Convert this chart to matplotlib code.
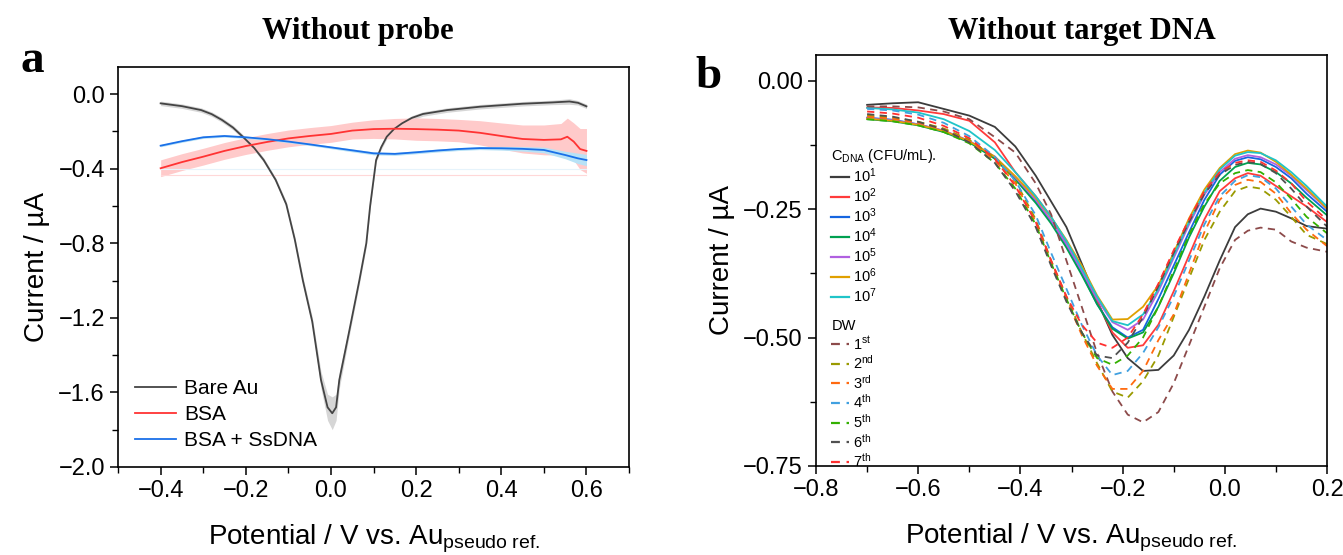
import matplotlib
matplotlib.use('Agg')
import matplotlib.pyplot as plt
from matplotlib.lines import Line2D
from matplotlib.ticker import MultipleLocator

plt.rcParams['font.family'] = ['Liberation Sans', 'DejaVu Sans']
plt.rcParams['mathtext.fontset'] = 'custom'
plt.rcParams['mathtext.rm'] = 'Liberation Sans'
plt.rcParams['mathtext.it'] = 'Liberation Sans:italic'
plt.rcParams['mathtext.bf'] = 'Liberation Sans:bold'

# --- panel a: without probe ---
bare_v = [-0.40, -0.35, -0.305, -0.28, -0.256, -0.23, -0.207, -0.18, -0.158, -0.13, -0.105, -0.085,
          -0.066, -0.044, -0.0235, -0.008, 0.003, 0.012, 0.0196, 0.043, 0.0666, 0.083, 0.092, 0.106,
          0.118, 0.131, 0.148, 0.167, 0.19, 0.216, 0.273, 0.35, 0.45, 0.52, 0.56, 0.58, 0.60]
bare_i = [-0.050, -0.065, -0.086, -0.108, -0.139, -0.180, -0.229, -0.290, -0.354, -0.46, -0.591, -0.78,
          -1.00, -1.22, -1.533, -1.68, -1.712, -1.68, -1.533, -1.27, -1.00, -0.80, -0.60, -0.354,
          -0.285, -0.229, -0.188, -0.157, -0.128, -0.107, -0.086, -0.068, -0.052, -0.045, -0.040, -0.047, -0.066]
bare_err = [0.012, 0.012, 0.012, 0.012, 0.012, 0.012, 0.012, 0.012, 0.012, 0.012, 0.015, 0.018,
            0.02, 0.025, 0.045, 0.07, 0.088, 0.07, 0.045, 0.025, 0.02, 0.018, 0.015, 0.012,
            0.012, 0.012, 0.012, 0.012, 0.012, 0.012, 0.012, 0.012, 0.012, 0.012, 0.015, 0.012, 0.012]

bsa_v = [-0.40, -0.35, -0.30, -0.25, -0.20, -0.15, -0.10, -0.05, 0.00, 0.05, 0.10, 0.15,
         0.20, 0.25, 0.30, 0.35, 0.40, 0.45, 0.50, 0.54, 0.555, 0.57, 0.585, 0.60]
bsa_i = [-0.398, -0.365, -0.336, -0.305, -0.279, -0.257, -0.238, -0.225, -0.214, -0.196, -0.188, -0.186,
         -0.188, -0.191, -0.196, -0.208, -0.225, -0.241, -0.246, -0.243, -0.229, -0.255, -0.295, -0.305]
bsa_err = [0.045, 0.045, 0.045, 0.045, 0.045, 0.045, 0.045, 0.045, 0.045, 0.045, 0.05, 0.055,
           0.06, 0.06, 0.06, 0.065, 0.07, 0.075, 0.08, 0.085, 0.10, 0.10, 0.11, 0.12]
bsa_base = -0.436

ss_v = [-0.40, -0.35, -0.30, -0.25, -0.20, -0.15, -0.10, -0.05, 0.00, 0.05, 0.10,
        0.15, 0.20, 0.25, 0.30, 0.35, 0.40, 0.45, 0.50, 0.55, 0.58, 0.60]
ss_i = [-0.277, -0.253, -0.232, -0.225, -0.232, -0.242, -0.255, -0.270, -0.286, -0.302, -0.318,
        -0.321, -0.3125, -0.303, -0.295, -0.290, -0.291, -0.294, -0.300, -0.327, -0.345, -0.354]
ss_err = [0.006, 0.006, 0.006, 0.006, 0.006, 0.006, 0.006, 0.006, 0.007, 0.008, 0.008,
          0.008, 0.008, 0.008, 0.008, 0.008, 0.01, 0.012, 0.015, 0.02, 0.028, 0.03]
ss_base = -0.40

# --- panel b: without target DNA ---
pot_b = [-0.70, -0.65, -0.60, -0.55, -0.50, -0.45, -0.41, -0.37, -0.34, -0.31, -0.28, -0.25, -0.22,
         -0.19, -0.16, -0.13, -0.10, -0.07, -0.04, -0.01, 0.02, 0.045, 0.07, 0.10, 0.13, 0.16, 0.20]

c_e1 = [-0.047, -0.044, -0.042, -0.055, -0.068, -0.090, -0.128, -0.185, -0.235, -0.285, -0.356, -0.428, -0.495,
        -0.54, -0.565, -0.563, -0.535, -0.485, -0.42, -0.35, -0.285, -0.26, -0.249, -0.255, -0.268, -0.283, -0.288]
c_e2 = [-0.052, -0.053, -0.058, -0.065, -0.078, -0.12, -0.178, -0.225, -0.265, -0.315, -0.37, -0.43, -0.49,
        -0.52, -0.515, -0.475, -0.41, -0.34, -0.27, -0.215, -0.19, -0.18, -0.185, -0.205, -0.225, -0.245, -0.275]
c_e3 = [-0.072, -0.076, -0.085, -0.098, -0.118, -0.150, -0.19, -0.235, -0.275, -0.32, -0.375, -0.435, -0.48,
        -0.50, -0.485, -0.425, -0.36, -0.295, -0.232, -0.183, -0.156, -0.149, -0.153, -0.168, -0.19, -0.22, -0.255]
c_e4 = [-0.075, -0.079, -0.087, -0.100, -0.120, -0.152, -0.192, -0.238, -0.278, -0.325, -0.378, -0.435, -0.483,
        -0.502, -0.49, -0.44, -0.375, -0.305, -0.245, -0.195, -0.168, -0.16, -0.163, -0.178, -0.20, -0.228, -0.262]
c_e5 = [-0.073, -0.077, -0.085, -0.097, -0.117, -0.148, -0.188, -0.232, -0.272, -0.318, -0.37, -0.425, -0.47,
        -0.485, -0.465, -0.41, -0.345, -0.28, -0.222, -0.178, -0.152, -0.145, -0.149, -0.163, -0.185, -0.213, -0.25]
c_e6 = [-0.074, -0.078, -0.086, -0.098, -0.118, -0.148, -0.186, -0.228, -0.266, -0.31, -0.36, -0.418, -0.465,
        -0.464, -0.44, -0.398, -0.335, -0.268, -0.212, -0.17, -0.143, -0.136, -0.14, -0.158, -0.183, -0.21, -0.249]
c_e7 = [-0.053, -0.056, -0.062, -0.075, -0.098, -0.135, -0.178, -0.225, -0.265, -0.312, -0.365, -0.42, -0.468,
        -0.476, -0.455, -0.405, -0.34, -0.275, -0.218, -0.173, -0.146, -0.139, -0.141, -0.155, -0.178, -0.205, -0.245]

dw_1 = [-0.05, -0.05, -0.052, -0.06, -0.075, -0.11, -0.14, -0.20, -0.26, -0.35, -0.44, -0.53, -0.605,
        -0.65, -0.665, -0.645, -0.589, -0.515, -0.44, -0.365, -0.31, -0.292, -0.286, -0.29, -0.313, -0.325, -0.333]
dw_2 = [-0.068, -0.072, -0.08, -0.093, -0.115, -0.15, -0.195, -0.27, -0.35, -0.42, -0.49, -0.55, -0.605,
        -0.617, -0.585, -0.535, -0.46, -0.385, -0.31, -0.255, -0.215, -0.206, -0.21, -0.232, -0.265, -0.30, -0.318]
dw_3 = [-0.07, -0.074, -0.082, -0.095, -0.118, -0.155, -0.20, -0.275, -0.355, -0.425, -0.495, -0.555, -0.60,
        -0.60, -0.565, -0.505, -0.455, -0.375, -0.295, -0.232, -0.203, -0.193, -0.197, -0.22, -0.258, -0.29, -0.322]
dw_4 = [-0.055, -0.058, -0.066, -0.082, -0.108, -0.148, -0.195, -0.262, -0.335, -0.405, -0.475, -0.535, -0.573,
        -0.565, -0.53, -0.48, -0.42, -0.35, -0.28, -0.225, -0.195, -0.184, -0.188, -0.21, -0.245, -0.28, -0.31]
dw_5 = [-0.075, -0.079, -0.087, -0.10, -0.122, -0.16, -0.21, -0.28, -0.355, -0.425, -0.49, -0.54, -0.553,
        -0.535, -0.50, -0.44, -0.37, -0.30, -0.24, -0.20, -0.18, -0.174, -0.178, -0.198, -0.23, -0.265, -0.297]
dw_6 = [-0.065, -0.07, -0.08, -0.095, -0.12, -0.16, -0.215, -0.285, -0.36, -0.43, -0.49, -0.535, -0.54,
        -0.51, -0.46, -0.40, -0.335, -0.275, -0.22, -0.183, -0.164, -0.158, -0.162, -0.18, -0.21, -0.245, -0.284]
dw_7 = [-0.06, -0.064, -0.072, -0.088, -0.112, -0.152, -0.205, -0.275, -0.35, -0.42, -0.475, -0.51, -0.52,
        -0.50, -0.455, -0.395, -0.33, -0.27, -0.215, -0.178, -0.16, -0.155, -0.158, -0.175, -0.20, -0.235, -0.271]

conc_series = [c_e1, c_e2, c_e3, c_e4, c_e5, c_e6, c_e7]
conc_labels = [r'$\mathregular{10^{%d}}$' % k for k in range(1, 8)]
conc_colors = ['#3c3c3c', '#ff3b3b', '#1565e0', '#00a050', '#b060e0', '#e0a000', '#20c4c8']

dw_series = [dw_1, dw_2, dw_3, dw_4, dw_5, dw_6, dw_7]
dw_labels = [r'$\mathregular{1^{st}}$', r'$\mathregular{2^{nd}}$', r'$\mathregular{3^{rd}}$',
             r'$\mathregular{4^{th}}$', r'$\mathregular{5^{th}}$', r'$\mathregular{6^{th}}$',
             r'$\mathregular{7^{th}}$']
dw_colors = ['#8c4a4a', '#9a9a00', '#ff6a10', '#40a0e0', '#33b000', '#505050', '#ff3030']

xlabel_text = r'Potential / V vs. Au$_{\mathregular{pseudo\ ref.}}$'
ylabel_text = 'Current / µA'

fig = plt.figure(figsize=(13.43, 5.55), dpi=100)
ax1 = fig.add_axes([0.0879, 0.1586, 0.3805, 0.7207])
ax2 = fig.add_axes([0.6076, 0.1604, 0.3805, 0.7405])

# panel a
def band(ax, v, i, err, color):
    lo = [a - e for a, e in zip(i, err)]
    hi = [a + e for a, e in zip(i, err)]
    ax.fill_between(v, lo, hi, color=color, lw=0)

band(ax1, bare_v, bare_i, bare_err, '#d6d6d6')
band(ax1, bsa_v, bsa_i, bsa_err, '#ffcaca')
band(ax1, ss_v, ss_i, ss_err, '#b8e2f6')
ax1.plot([bsa_v[0], bsa_v[-1]], [bsa_base, bsa_base], color='#ffd8d8', lw=0.8)
ax1.plot([ss_v[0], ss_v[-1]], [ss_base, ss_base], color='#e6f3fb', lw=0.8)
ax1.plot(bare_v, bare_i, color='#444444', lw=1.3, label='Bare Au')
ax1.plot(bsa_v, bsa_i, color='#ff3333', lw=1.3, label='BSA')
ax1.plot(ss_v, ss_i, color='#1a70e8', lw=1.3, label='BSA + SsDNA')

ax1.set_xlim(-0.5, 0.7)
ax1.set_ylim(-2.0, 0.145)
ax1.xaxis.set_major_locator(MultipleLocator(0.2))
ax1.xaxis.set_minor_locator(MultipleLocator(0.1))
ax1.yaxis.set_major_locator(MultipleLocator(0.4))
ax1.yaxis.set_minor_locator(MultipleLocator(0.2))
ax1.legend(loc='lower left', bbox_to_anchor=(0.033, 0.042), frameon=False, fontsize=15,
           handlelength=1.95, handletextpad=0.4, labelspacing=0.33, borderpad=0, borderaxespad=0)

# panel b
for vals, lab, col in zip(conc_series, conc_labels, conc_colors):
    ax2.plot(pot_b, vals, color=col, lw=1.3)
for vals, lab, col in zip(dw_series, dw_labels, dw_colors):
    ax2.plot(pot_b, vals, color=col, lw=1.3, linestyle=(0, (4, 3)))

ax2.set_xlim(-0.8, 0.2)
ax2.set_ylim(-0.75, 0.05)
ax2.xaxis.set_major_locator(MultipleLocator(0.2))
ax2.xaxis.set_minor_locator(MultipleLocator(0.1))
ax2.yaxis.set_major_locator(MultipleLocator(0.25))
ax2.yaxis.set_minor_locator(MultipleLocator(0.125))

h_conc = [Line2D([], [], color=c, lw=1.6) for c in conc_colors]
h_dw = [Line2D([], [], color=c, lw=1.6, linestyle=(0, (4, 3))) for c in dw_colors]
leg_c = ax2.legend(h_conc, conc_labels, title=r'C$_{\mathregular{DNA}}$ (CFU/mL).', alignment='left',
                   loc='upper left', bbox_to_anchor=(0.03, 0.775), frameon=False, fontsize=10.5,
                   title_fontsize=10.5, handlelength=1.2, handletextpad=0.3, labelspacing=0.09,
                   borderpad=0, borderaxespad=0)
ax2.add_artist(leg_c)
ax2.legend(h_dw, dw_labels, title='DW', alignment='left', loc='upper left',
           bbox_to_anchor=(0.03, 0.358), frameon=False, fontsize=10.5, title_fontsize=10.5,
           handlelength=1.2, handletextpad=0.3, labelspacing=0.12, borderpad=0, borderaxespad=0)

for ax in (ax1, ax2):
    ax.set_xlabel(xlabel_text, fontsize=20, labelpad=15)
    ax.set_ylabel(ylabel_text, fontsize=20, labelpad=6)
    ax.tick_params(which='both', direction='out', top=False, right=False, labelsize=17)
    ax.tick_params(which='major', length=6, width=1.1)
    ax.tick_params(which='minor', length=4, width=1.0)
    for sp in ax.spines.values():
        sp.set_linewidth(1.2)

fig.text(358 / 1343, 1 - 31 / 555, 'Without probe', family='Liberation Serif', weight='bold',
         fontsize=22, ha='center', va='center')
fig.text(1082 / 1343, 1 - 31 / 555, 'Without target DNA', family='Liberation Serif', weight='bold',
         fontsize=22, ha='center', va='center')
fig.text(32 / 1343, 1 - 72 / 555, 'a', family='Liberation Serif', weight='bold', fontsize=34,
         ha='center', va='baseline')
fig.text(709 / 1343, 1 - 88 / 555, 'b', family='Liberation Serif', weight='bold', fontsize=34,
         ha='center', va='baseline')

fig.savefig('out.png', dpi=100)
plt.close(fig)
